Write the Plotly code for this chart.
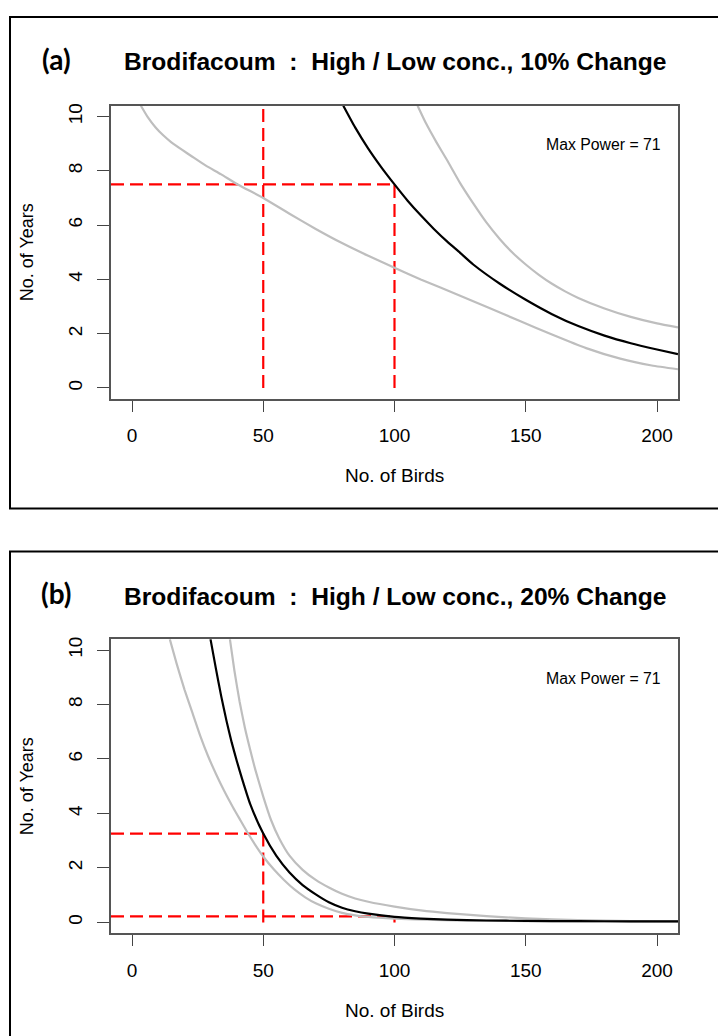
import plotly.graph_objects as go

# ---------------- Panel (a): 10% change ----------------
birds_a_mid = [80.5, 85, 90, 95, 100, 105, 110, 115, 120, 125, 130, 140, 150,
               160, 170, 180, 190, 200, 208]
years_a_mid = [10.4, 9.6, 8.82, 8.13, 7.5, 6.9, 6.36, 5.86, 5.4, 4.98, 4.55,
               3.85, 3.25, 2.72, 2.28, 1.93, 1.65, 1.42, 1.25]

birds_a_hi = [108.8, 112, 116, 120, 125, 130, 135, 140, 145, 150, 155, 160,
              165, 170, 180, 190, 200, 208]
years_a_hi = [10.4, 9.75, 9.05, 8.4, 7.55, 6.8, 6.1, 5.5, 4.98, 4.55, 4.17,
              3.84, 3.56, 3.32, 2.93, 2.62, 2.38, 2.23]

birds_a_lo = [3.4, 6, 9, 12, 15, 19, 23, 28, 34, 40.3, 50, 60, 70, 80, 90,
              100, 110, 125, 135, 148, 160, 173, 186, 198, 208]
years_a_lo = [10.4, 9.98, 9.6, 9.3, 9.05, 8.78, 8.52, 8.2, 7.87, 7.5, 7.0,
              6.42, 5.86, 5.34, 4.87, 4.43, 4.0, 3.4, 2.99, 2.46, 1.97, 1.47,
              1.08, 0.83, 0.69]

# reference guides: (birds, years) read-offs
guide_a_birds = [50, 100]
guide_a_years = [10.4, 7.5]

# ---------------- Panel (b): 20% change ----------------
birds_b_mid = [29.9, 32, 34, 36, 38, 40, 42, 45, 50, 55, 60, 65, 70, 75, 80,
               85, 90, 100, 110, 120, 135, 150, 170, 190, 208]
years_b_mid = [10.4, 9.3, 8.3, 7.4, 6.6, 5.9, 5.25, 4.35, 3.26, 2.44, 1.83,
               1.37, 1.03, 0.74, 0.54, 0.41, 0.32, 0.2, 0.14, 0.1, 0.07,
               0.055, 0.045, 0.04, 0.035]

birds_b_hi = [37.3, 39, 41, 43, 45, 47, 50, 53, 56, 60, 65, 70, 75, 80, 85,
              90, 100, 110, 120, 135, 150, 170, 190, 208]
years_b_hi = [10.4, 9.25, 8.1, 7.15, 6.35, 5.6, 4.62, 3.75, 3.1, 2.45, 1.93,
              1.56, 1.28, 1.05, 0.88, 0.76, 0.58, 0.44, 0.34, 0.23, 0.15,
              0.08, 0.05, 0.04]

birds_b_lo = [14.4, 17, 20, 23, 26, 29, 32, 35, 38.5, 41, 44, 47, 50, 54, 58,
              62, 66, 70, 75, 80, 85, 90, 100, 115, 130, 150, 175, 208]
years_b_lo = [10.4, 9.5, 8.55, 7.7, 6.85, 6.1, 5.45, 4.85, 4.22, 3.8, 3.3,
              2.84, 2.42, 1.95, 1.55, 1.2, 0.92, 0.7, 0.5, 0.35, 0.26, 0.2,
              0.14, 0.09, 0.065, 0.05, 0.04, 0.035]

guide_b_birds = [50, 100]
guide_b_years = [3.26, 0.22]

x_ticks = [0, 50, 100, 150, 200]
y_ticks = [0, 2, 4, 6, 8, 10]
x_range = [-8, 208]
y_range = [-0.4, 10.4]

titles = ["Brodifacoum  :  High / Low conc., 10% Change",
          "Brodifacoum  :  High / Low conc., 20% Change"]
panel_tags = ["(a)", "(b)"]
max_power = 71

W, H = 718, 1036
GREY = "#bebebe"
RED = "#ff0000"
FONT = "Liberation Sans, Arial, sans-serif"
DASH = "13px,6px"

fig = go.Figure()


def px_x(p):
    return p / W


def px_y(p):
    return 1 - p / H


def guide(xs, ys, xa, ya):
    fig.add_trace(go.Scatter(x=xs, y=ys, mode="lines",
                             line=dict(color=RED, width=2.2, dash=DASH),
                             xaxis=xa, yaxis=ya, showlegend=False,
                             hoverinfo="skip"))


def curve(xs, ys, col, xa, ya):
    fig.add_trace(go.Scatter(x=xs, y=ys, mode="lines",
                             line=dict(color=col, width=2.2, shape="spline",
                                       smoothing=0.5),
                             xaxis=xa, yaxis=ya, showlegend=False,
                             hoverinfo="skip"))


# panel (a): the 50-bird guide runs off the top (curve is off scale there)
guide([guide_a_birds[0]] * 2, [0, guide_a_years[0]], "x", "y")
guide([x_range[0], guide_a_birds[1]], [guide_a_years[1]] * 2, "x", "y")
guide([guide_a_birds[1]] * 2, [0, guide_a_years[1]], "x", "y")
curve(birds_a_lo, years_a_lo, GREY, "x", "y")
curve(birds_a_hi, years_a_hi, GREY, "x", "y")
curve(birds_a_mid, years_a_mid, "#000000", "x", "y")

# panel (b)
for b, yv in zip(guide_b_birds, guide_b_years):
    guide([x_range[0], b], [yv, yv], "x2", "y2")
    guide([b, b], [0, yv], "x2", "y2")
curve(birds_b_lo, years_b_lo, GREY, "x2", "y2")
curve(birds_b_hi, years_b_hi, GREY, "x2", "y2")
curve(birds_b_mid, years_b_mid, "#000000", "x2", "y2")

axis_common = dict(showgrid=False, zeroline=False, showline=True, mirror=True,
                   linecolor="#555555", linewidth=1.5, ticks="outside",
                   tickcolor="#444444", tickwidth=1.3,
                   tickfont=dict(family=FONT, size=19, color="#000000"))

# plot areas in pixels: left, right, top, bottom
boxes = [(111, 678, 103, 397), (111, 678, 638, 933)]

layout = dict(width=W, height=H, margin=dict(l=0, r=0, t=0, b=0),
              paper_bgcolor="white", plot_bgcolor="white", showlegend=False)

for i, (l, r, t, b) in enumerate(boxes):
    sfx = "" if i == 0 else "2"
    layout["xaxis" + sfx] = dict(axis_common, domain=[px_x(l), px_x(r)],
                                 range=x_range, tickvals=x_ticks, ticklen=11,
                                 ticklabelstandoff=8,
                                 anchor="y" + sfx)
    layout["yaxis" + sfx] = dict(axis_common, domain=[px_y(b), px_y(t)],
                                 range=y_range, tickvals=y_ticks, ticklen=12,
                                 tickangle=-90, ticklabelstandoff=8,
                                 anchor="x" + sfx)

fig.update_layout(**layout)

annotations = []
shapes = []
panel_tops = [14, 550]
panel_bottoms = [507, 1060]
title_y = [59, 595]
for i, (l, r, t, b) in enumerate(boxes):
    # outer frame of each panel
    shapes.append(dict(type="rect", xref="paper", yref="paper",
                       x0=px_x(10), x1=px_x(740), y0=px_y(panel_bottoms[i]),
                       y1=px_y(panel_tops[i]),
                       line=dict(color="#000000", width=2),
                       fillcolor="rgba(0,0,0,0)"))
    annotations.append(dict(text=panel_tags[i], xref="paper", yref="paper",
                            x=px_x(56), y=px_y(title_y[i] - 3), showarrow=False,
                            xanchor="center", yanchor="middle",
                            font=dict(family="Lato, sans-serif", size=28,
                                      color="#000000", weight="bold")))
    annotations.append(dict(text="<b>" + titles[i] + "</b>", xref="paper",
                            yref="paper", x=px_x((l + r) / 2), y=px_y(title_y[i]),
                            showarrow=False, xanchor="center", yanchor="middle",
                            font=dict(family=FONT, size=24.6, color="#000000")))
    annotations.append(dict(text="No. of Birds", xref="paper", yref="paper",
                            x=px_x((l + r) / 2), y=px_y(b + 77), showarrow=False,
                            xanchor="center", yanchor="middle",
                            font=dict(family=FONT, size=19, color="#000000")))
    annotations.append(dict(text="No. of Years", xref="paper", yref="paper",
                            x=px_x(27), y=px_y((t + b) / 2), showarrow=False,
                            textangle=-90, xanchor="center", yanchor="middle",
                            font=dict(family=FONT, size=18, color="#000000")))
    annotations.append(dict(text=f"Max Power = {max_power}",
                            xref="x" if i == 0 else "x2",
                            yref="y" if i == 0 else "y2",
                            x=202.3, y=8.97, showarrow=False, xanchor="right",
                            yanchor="middle",
                            font=dict(family=FONT, size=15.8, color="#000000")))

fig.update_layout(annotations=annotations, shapes=shapes)
fig.write_html("out.html")
